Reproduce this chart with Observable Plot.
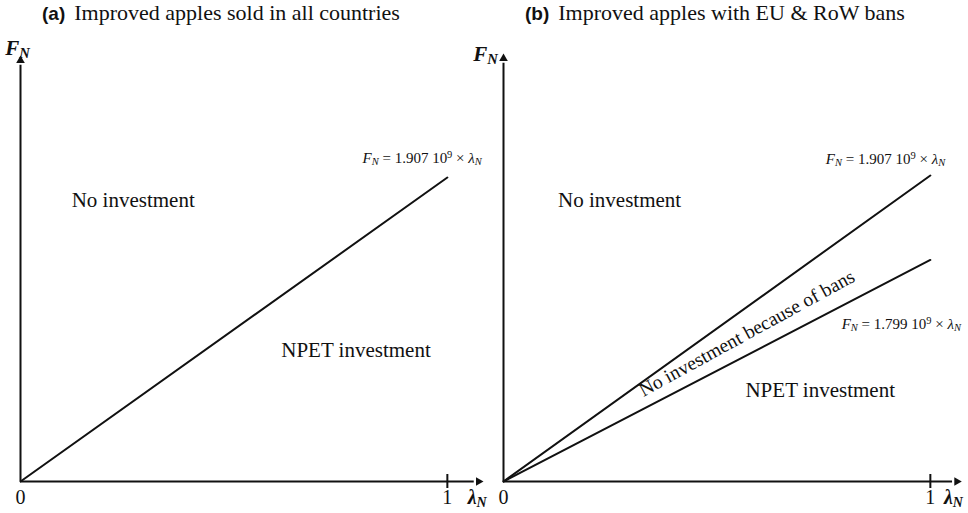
<!DOCTYPE html>
<html><head><meta charset="utf-8">
<script src="https://cdn.jsdelivr.net/npm/d3@7"></script>
<script src="https://cdn.jsdelivr.net/npm/@observablehq/plot@0.6"></script>
<style>
body{margin:0;background:#fff;}
#wrap{position:relative;width:968px;height:513px;overflow:hidden;background:#fff;}
.title{position:absolute;top:0px;font-family:"Liberation Serif",serif;font-size:22px;color:#111;white-space:nowrap;}
.title b{font-family:"Liberation Sans",Arial,sans-serif;font-size:19px;margin-right:9px}
.panel{position:absolute;top:30px;width:500px;height:483px;}
.panel svg{overflow:visible;max-width:none !important;}
</style></head><body><div id="wrap"></div>
<script>
// ---- data ----
const panelIds = ["a", "b"];
const panelTitles = ["Improved apples sold in all countries", "Improved apples with EU & RoW bans"];
const panelLeft = [0, 483];

// boundary lines F_N = slope × λ_N (slopes as drawn, in 10^9 units)
const boundaryPanel = ["a", "b", "b"];
const boundarySlope = [1.907, 1.92, 1.39];
const boundaryLabel = ["F_N = 1.907 10^9 × λ_N", "F_N = 1.907 10^9 × λ_N", "F_N = 1.799 10^9 × λ_N"];
const boundaryLabelX = [0.941, 0.895, 0.932];
const boundaryLabelY = [2.03, 2.02, 0.99];

// region labels
const regionPanel = ["a", "a", "b", "b", "b"];
const regionText = ["No investment", "NPET investment", "No investment", "NPET investment", "No investment because of bans"];
const regionX = [0.264, 0.786, 0.272, 0.742, 0.57];
const regionY = [1.763, 0.822, 1.763, 0.571, 0.93];
const regionAngle = [0, 0, 0, 0, -28.7];
const regionSize = [21, 21, 21, 21, 19.5];

// axes
const xTicks = [0, 1];
const xTickLabels = ["0", "1"];
const xAxisEnd = [1.073, 1.062];
const yAxisEnd = [2.641, 2.654];
const xLabel = "λ_N";
const yLabel = "F_N";
const xLabelPos = [1.07, 1.054];
const yLabelPos = [[-0.007, 2.716], [-0.042, 2.679]];

// ---- rendering ----
const serif = "Liberation Serif, serif";

function richify(svg) {
  d3.select(svg).selectAll("text").each(function () {
    const t = this.textContent;
    if (!/[_^]/.test(t)) return;
    const parts = t.split(/([_^].|F|λ)/);
    this.textContent = "";
    for (const p of parts) {
      if (!p) continue;
      const s = d3.select(this).append("tspan");
      if (p[0] === "_") s.attr("baseline-shift", "-18%").attr("font-size", "70%").attr("font-style", "italic").text(p[1]);
      else if (p[0] === "^") s.attr("baseline-shift", "super").attr("font-size", "70%").text(p[1]);
      else if (p === "F" || p === "λ") s.attr("font-style", "italic").text(p);
      else s.text(p);
    }
  });
}

const wrap = document.getElementById("wrap");

panelIds.forEach((id, i) => {
  const title = document.createElement("div");
  title.className = "title";
  title.style.left = (panelLeft[i] + 42) + "px";
  title.innerHTML = `<b>(${id})</b>`;
  title.appendChild(document.createTextNode(panelTitles[i]));
  wrap.appendChild(title);

  const lines = [];
  boundaryPanel.forEach((p, j) => {
    if (p !== id) return;
    lines.push({k: j, x: 0, y: 0}, {k: j, x: 1, y: boundarySlope[j]});
  });
  const labels = boundaryPanel.map((p, j) => ({p, text: boundaryLabel[j], x: boundaryLabelX[j], y: boundaryLabelY[j]})).filter(d => d.p === id);
  const regions = regionPanel.map((p, j) => ({p, text: regionText[j], x: regionX[j], y: regionY[j], a: regionAngle[j], s: regionSize[j]})).filter(d => d.p === id);

  const plot = Plot.plot({
    width: 500,
    height: 483,
    marginLeft: 20,
    marginRight: 19,
    marginTop: 28,
    marginBottom: 32,
    x: {domain: [0, 1.08], axis: null},
    y: {domain: [0, 2.654], axis: null},
    style: {background: "transparent", overflow: "visible"},
    marks: [
      // axes
      Plot.ruleY([0], {x1: 0, x2: xAxisEnd[i] - 0.01, stroke: "#111", strokeWidth: 2}),
      Plot.ruleX([0], {y1: 0, y2: yAxisEnd[i] - 0.03, stroke: "#111", strokeWidth: 2}),
      Plot.dot([{x: xAxisEnd[i], y: 0}], {x: "x", y: "y", symbol: "triangle", rotate: 90, r: 3.2, fill: "#111", stroke: null}),
      Plot.dot([{x: 0, y: yAxisEnd[i]}], {x: "x", y: "y", symbol: "triangle", r: 3.2, fill: "#111", stroke: null}),
      Plot.ruleX([1], {y1: -0.044, y2: 0.044, stroke: "#111", strokeWidth: 2}),
      Plot.text(xTicks, {x: d => d, y: -0.098, text: (d, j) => xTickLabels[j], fontSize: 20, fontFamily: serif, fill: "#111"}),
      Plot.text([xLabel], {x: xLabelPos[i], y: -0.098, text: d => d, fontSize: 20, fontFamily: serif, fontWeight: "bold", fill: "#111"}),
      Plot.text([yLabel], {x: yLabelPos[i][0], y: yLabelPos[i][1], text: d => d, fontSize: 21, fontFamily: serif, fontWeight: "bold", fill: "#111"}),
      // boundaries
      Plot.line(lines, {x: "x", y: "y", z: "k", stroke: "#111", strokeWidth: 2}),
      Plot.text(labels, {x: "x", y: "y", text: "text", fontSize: 15, fontFamily: serif, fill: "#111"}),
      // regions
      Plot.text(regions, {x: "x", y: "y", text: "text", rotate: "a", fontSize: "s", fontFamily: serif, fill: "#111"})
    ]
  });
  plot.style.maxWidth = "none";
  richify(plot);
  const holder = document.createElement("div");
  holder.className = "panel";
  holder.style.left = panelLeft[i] + "px";
  holder.appendChild(plot);
  wrap.appendChild(holder);
});
</script>
</body></html>
